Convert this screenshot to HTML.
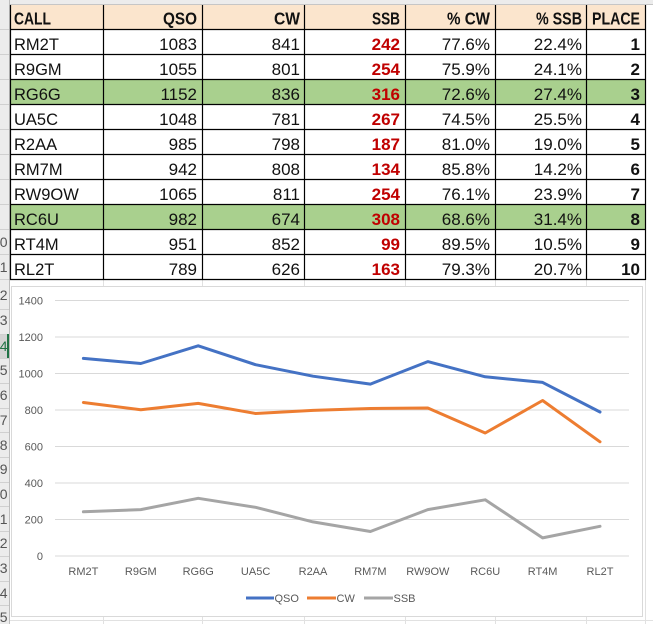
<!DOCTYPE html>
<html><head><meta charset="utf-8"><style>
html,body{margin:0;padding:0;background:#fff;width:653px;height:624px;overflow:hidden}
svg{display:block}
</style></head><body>
<svg width="653" height="624" viewBox="0 0 653 624" xmlns="http://www.w3.org/2000/svg" font-family="'Liberation Sans', Arial, sans-serif">
<defs><clipPath id="g"><rect x="0" y="0" width="9" height="624"/></clipPath></defs>
<rect width="653" height="624" fill="#fff"/>
<g stroke="#E1E1E1" stroke-width="1">
<line x1="103.5" y1="279" x2="103.5" y2="624"/><line x1="202.5" y1="279" x2="202.5" y2="624"/>
<line x1="304.5" y1="279" x2="304.5" y2="624"/><line x1="405.5" y1="279" x2="405.5" y2="624"/>
<line x1="495.5" y1="279" x2="495.5" y2="624"/><line x1="586.5" y1="279" x2="586.5" y2="624"/>
<line x1="645.5" y1="0" x2="645.5" y2="624"/>
<line x1="10" y1="620.5" x2="653" y2="620.5"/>
</g>
<rect x="0" y="0" width="653" height="4" fill="#ECECEC"/>
<line x1="0" y1="4.5" x2="653" y2="4.5" stroke="#C6C6C6"/>
<rect x="0" y="0" width="9" height="624" fill="#ECECEC"/>
<rect x="0" y="334" width="9" height="24" fill="#D4D4D4"/>
<g stroke="#D0D0D0" stroke-width="1">
<line x1="0" y1="29.5" x2="9" y2="29.5"/><line x1="0" y1="54.5" x2="9" y2="54.5"/><line x1="0" y1="79.5" x2="9" y2="79.5"/>
<line x1="0" y1="104.5" x2="9" y2="104.5"/><line x1="0" y1="129.5" x2="9" y2="129.5"/><line x1="0" y1="154.5" x2="9" y2="154.5"/>
<line x1="0" y1="179.5" x2="9" y2="179.5"/><line x1="0" y1="204.5" x2="9" y2="204.5"/><line x1="0" y1="229.5" x2="9" y2="229.5"/>
<line x1="0" y1="254.5" x2="9" y2="254.5"/><line x1="0" y1="279.5" x2="9" y2="279.5"/><line x1="0" y1="309.5" x2="9" y2="309.5"/>
<line x1="0" y1="334.5" x2="9" y2="334.5"/><line x1="0" y1="358.5" x2="9" y2="358.5"/><line x1="0" y1="383.5" x2="9" y2="383.5"/>
<line x1="0" y1="408.5" x2="9" y2="408.5"/><line x1="0" y1="432.5" x2="9" y2="432.5"/><line x1="0" y1="457.5" x2="9" y2="457.5"/>
<line x1="0" y1="482.5" x2="9" y2="482.5"/><line x1="0" y1="506.5" x2="9" y2="506.5"/><line x1="0" y1="531.5" x2="9" y2="531.5"/>
<line x1="0" y1="556.5" x2="9" y2="556.5"/><line x1="0" y1="581.5" x2="9" y2="581.5"/><line x1="0" y1="605.5" x2="9" y2="605.5"/>
</g>
<line x1="9.5" y1="0" x2="9.5" y2="624" stroke="#BDBDBD"/>
<line x1="8" y1="334" x2="8" y2="358" stroke="#217346" stroke-width="2"/>
<g clip-path="url(#g)" font-size="14" fill="#555" text-anchor="end">
<text x="7.5" y="247">10</text><text x="7.5" y="272">11</text><text x="7.5" y="300">12</text>
<text x="7.5" y="325">13</text><text x="7.5" y="351" fill="#217346">14</text><text x="7.5" y="375">15</text>
<text x="7.5" y="400">16</text><text x="7.5" y="425">17</text><text x="7.5" y="450">18</text>
<text x="7.5" y="474">19</text><text x="7.5" y="499">20</text><text x="7.5" y="524">21</text>
<text x="7.5" y="548">22</text><text x="7.5" y="573">23</text><text x="7.5" y="598">24</text>
<text x="7.5" y="622">25</text>
</g>
<rect x="10" y="5" width="635" height="24" fill="#FBE5CD"/>
<rect x="10" y="79" width="635" height="25" fill="#A9D08E"/>
<rect x="10" y="204" width="635" height="25" fill="#A9D08E"/>
<g stroke="#000" stroke-width="1.2">
<line x1="10" y1="29.5" x2="645.5" y2="29.5"/><line x1="10" y1="54.5" x2="645.5" y2="54.5"/>
<line x1="10" y1="79.5" x2="645.5" y2="79.5"/><line x1="10" y1="104.5" x2="645.5" y2="104.5"/>
<line x1="10" y1="129.5" x2="645.5" y2="129.5"/><line x1="10" y1="154.5" x2="645.5" y2="154.5"/>
<line x1="10" y1="179.5" x2="645.5" y2="179.5"/><line x1="10" y1="204.5" x2="645.5" y2="204.5"/>
<line x1="10" y1="229.5" x2="645.5" y2="229.5"/><line x1="10" y1="254.5" x2="645.5" y2="254.5"/>
<line x1="10" y1="279.5" x2="645.5" y2="279.5"/>
<line x1="10.5" y1="5" x2="10.5" y2="280"/><line x1="103.5" y1="5" x2="103.5" y2="280"/>
<line x1="202.5" y1="5" x2="202.5" y2="280"/><line x1="304.5" y1="5" x2="304.5" y2="280"/>
<line x1="405.5" y1="5" x2="405.5" y2="280"/><line x1="495.5" y1="5" x2="495.5" y2="280"/>
<line x1="586.5" y1="5" x2="586.5" y2="280"/><line x1="645.5" y1="5" x2="645.5" y2="280"/>
</g>
<g font-size="17.5" font-weight="bold" fill="#111">
<text x="14" y="24.5" textLength="37" lengthAdjust="spacingAndGlyphs">CALL</text>
<text x="163" y="24.5" textLength="34" lengthAdjust="spacingAndGlyphs">QSO</text>
<text x="274" y="24.5" textLength="26" lengthAdjust="spacingAndGlyphs">CW</text>
<text x="372" y="24.5" textLength="28" lengthAdjust="spacingAndGlyphs">SSB</text>
<text x="447" y="24.5" textLength="43" lengthAdjust="spacingAndGlyphs">% CW</text>
<text x="536" y="24.5" textLength="46" lengthAdjust="spacingAndGlyphs">% SSB</text>
<text x="592" y="24.5" textLength="48" lengthAdjust="spacingAndGlyphs">PLACE</text>
</g>
<g font-size="16.5" fill="#111">
<text x="14" y="50">RM2T</text><text x="14" y="75">R9GM</text><text x="14" y="100">RG6G</text>
<text x="14" y="125">UA5C</text><text x="14" y="150">R2AA</text><text x="14" y="175">RM7M</text>
<text x="14" y="200">RW9OW</text><text x="14" y="225">RC6U</text><text x="14" y="250">RT4M</text>
<text x="14" y="275">RL2T</text>
</g>
<g font-size="17" fill="#111" text-anchor="end">
<text x="197" y="50">1083</text><text x="197" y="75">1055</text><text x="197" y="100">1152</text>
<text x="197" y="125">1048</text><text x="197" y="150">985</text><text x="197" y="175">942</text>
<text x="197" y="200">1065</text><text x="197" y="225">982</text><text x="197" y="250">951</text>
<text x="197" y="275">789</text>
<text x="300" y="50">841</text><text x="300" y="75">801</text><text x="300" y="100">836</text>
<text x="300" y="125">781</text><text x="300" y="150">798</text><text x="300" y="175">808</text>
<text x="300" y="200">811</text><text x="300" y="225">674</text><text x="300" y="250">852</text>
<text x="300" y="275">626</text>
<text x="490" y="50">77.6%</text><text x="490" y="75">75.9%</text><text x="490" y="100">72.6%</text>
<text x="490" y="125">74.5%</text><text x="490" y="150">81.0%</text><text x="490" y="175">85.8%</text>
<text x="490" y="200">76.1%</text><text x="490" y="225">68.6%</text><text x="490" y="250">89.5%</text>
<text x="490" y="275">79.3%</text>
<text x="582" y="50">22.4%</text><text x="582" y="75">24.1%</text><text x="582" y="100">27.4%</text>
<text x="582" y="125">25.5%</text><text x="582" y="150">19.0%</text><text x="582" y="175">14.2%</text>
<text x="582" y="200">23.9%</text><text x="582" y="225">31.4%</text><text x="582" y="250">10.5%</text>
<text x="582" y="275">20.7%</text>
</g>
<g font-size="17" font-weight="bold" fill="#C00000" text-anchor="end">
<text x="400" y="50">242</text><text x="400" y="75">254</text><text x="400" y="100">316</text>
<text x="400" y="125">267</text><text x="400" y="150">187</text><text x="400" y="175">134</text>
<text x="400" y="200">254</text><text x="400" y="225">308</text><text x="400" y="250">99</text>
<text x="400" y="275">163</text>
</g>
<g font-size="17" font-weight="bold" fill="#111" text-anchor="end">
<text x="640" y="50">1</text><text x="640" y="75">2</text><text x="640" y="100">3</text>
<text x="640" y="125">4</text><text x="640" y="150">5</text><text x="640" y="175">6</text>
<text x="640" y="200">7</text><text x="640" y="225">8</text><text x="640" y="250">9</text>
<text x="640" y="275">10</text>
</g>
<rect x="11.5" y="286.5" width="631" height="330" fill="#fff" stroke="#D9D9D9"/>
<g stroke="#D9D9D9" stroke-width="1">
<line x1="55" y1="300.5" x2="629" y2="300.5"/><line x1="55" y1="337" x2="629" y2="337"/>
<line x1="55" y1="373.5" x2="629" y2="373.5"/><line x1="55" y1="410" x2="629" y2="410"/>
<line x1="55" y1="446.5" x2="629" y2="446.5"/><line x1="55" y1="483" x2="629" y2="483"/>
<line x1="55" y1="519.5" x2="629" y2="519.5"/><line x1="55" y1="556" x2="629" y2="556"/>
</g>
<g font-size="11" fill="#595959" text-anchor="end">
<text x="43" y="304.5">1400</text><text x="43" y="341">1200</text><text x="43" y="377.5">1000</text>
<text x="43" y="414">800</text><text x="43" y="450.5">600</text><text x="43" y="487">400</text>
<text x="43" y="523.5">200</text><text x="43" y="560">0</text>
</g>
<g font-size="11" fill="#595959" text-anchor="middle">
<text x="83.4" y="575">RM2T</text><text x="140.8" y="575">R9GM</text><text x="198.2" y="575">RG6G</text>
<text x="255.6" y="575">UA5C</text><text x="313" y="575">R2AA</text><text x="370.4" y="575">RM7M</text>
<text x="427.8" y="575">RW9OW</text><text x="485.2" y="575">RC6U</text><text x="542.6" y="575">RT4M</text>
<text x="600" y="575">RL2T</text>
</g>
<g fill="none" stroke-width="3" stroke-linejoin="round" stroke-linecap="round">
<polyline stroke="#4472C4" points="83.4,358.4 140.8,363.5 198.2,345.8 255.6,364.7 313,376.2 370.4,384.1 427.8,361.6 485.2,376.8 542.6,382.4 600,412"/>
<polyline stroke="#ED7D31" points="83.4,402.5 140.8,409.8 198.2,403.4 255.6,413.5 313,410.4 370.4,408.5 427.8,408 485.2,433 542.6,400.5 600,441.8"/>
<polyline stroke="#A5A5A5" points="83.4,511.8 140.8,509.6 198.2,498.3 255.6,507.3 313,521.9 370.4,531.5 427.8,509.6 485.2,499.8 542.6,537.9 600,526.3"/>
</g>
<g stroke-width="3">
<line x1="246" y1="598" x2="274" y2="598" stroke="#4472C4"/>
<line x1="307" y1="598" x2="336" y2="598" stroke="#ED7D31"/>
<line x1="364" y1="598" x2="393" y2="598" stroke="#A5A5A5"/>
</g>
<g font-size="11" fill="#595959">
<text x="274.5" y="602">QSO</text><text x="336.5" y="602">CW</text><text x="393.5" y="602">SSB</text>
</g>
</svg>
</body></html>
